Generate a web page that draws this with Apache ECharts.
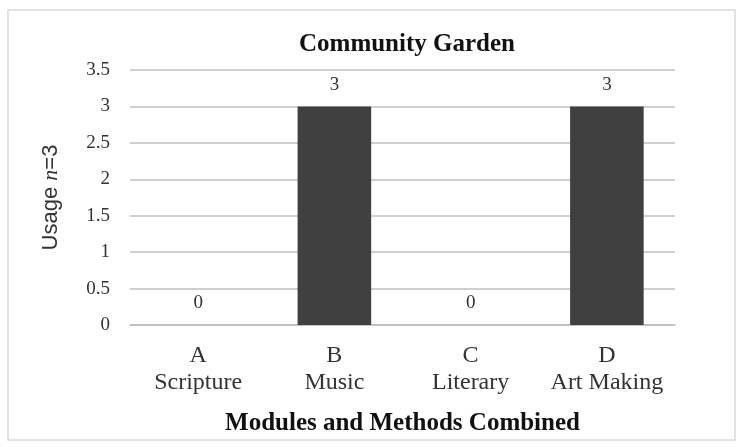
<!DOCTYPE html>
<html>
<head>
<meta charset="utf-8">
<script src="https://cdn.jsdelivr.net/npm/echarts@6/dist/echarts.min.js"></script>
<style>
  html, body { margin: 0; padding: 0; background: #fff; }
  #chart { width: 744px; height: 447px; }
</style>
</head>
<body>
<div id="chart"></div>
<script>
// 数据
var categories = ['A\nScripture', 'B\nMusic', 'C\nLiterary', 'D\nArt Making'];
var usage = [0, 3, 0, 3];
var yTicks = { min: 0, max: 3.5, interval: 0.5 };

var serif = '"Liberation Serif", "DejaVu Serif", serif';
var sans = '"Liberation Sans", Arial, sans-serif';
var chart = echarts.init(document.getElementById('chart'));

var option = {
  backgroundColor: '#fff',
  animation: false,
  title: {
    text: 'Community Garden',
    left: 402,
    textAlign: 'center',
    top: 27,
    textStyle: { fontFamily: serif, fontSize: 25, fontWeight: 'bold', color: '#111' }
  },
  graphic: [{
    type: 'rect',
    shape: { x: 8, y: 10, width: 727, height: 430 },
    style: { fill: 'none', stroke: '#d9d9d9', lineWidth: 1.5 },
    silent: true
  }],
  grid: { left: 130, right: 69, top: 70, bottom: 122, containLabel: false, outerBoundsMode: 'none' },
  xAxis: {
    type: 'category',
    data: categories,
    name: 'Modules and Methods Combined',
    nameLocation: 'middle',
    nameGap: 86,
    nameTextStyle: { fontFamily: serif, fontSize: 25, fontWeight: 'bold', color: '#111' },
    axisLine: { lineStyle: { color: '#bfbfbf', width: 1.5 } },
    axisTick: { show: false },
    axisLabel: {
      interval: 0,
      fontFamily: serif, fontSize: 24, color: '#333', margin: 17, lineHeight: 27
    }
  },
  yAxis: {
    type: 'value',
    min: yTicks.min,
    max: yTicks.max,
    interval: yTicks.interval,
    name: '{a|Usage }{b|n}{a|=3}',
    nameLocation: 'middle',
    nameGap: 68,
    nameTextStyle: {
      rich: {
        a: { fontFamily: sans, fontSize: 22, color: '#333' },
        b: { fontFamily: serif, fontSize: 22, color: '#333', fontStyle: 'italic' }
      }
    },
    axisLine: { show: false },
    axisTick: { show: false },
    splitLine: { lineStyle: { color: '#bfbfbf', width: 1.5 } },
    axisLabel: { fontFamily: serif, fontSize: 19, color: '#333', margin: 20 }
  },
  series: [{
    type: 'bar',
    data: usage,
    barWidth: '54%',
    itemStyle: { color: '#404040' },
    label: {
      show: true,
      position: 'top',
      distance: 12,
      fontFamily: serif,
      fontSize: 19,
      color: '#333'
    }
  }]
};

chart.setOption(option);
</script>
</body>
</html>
